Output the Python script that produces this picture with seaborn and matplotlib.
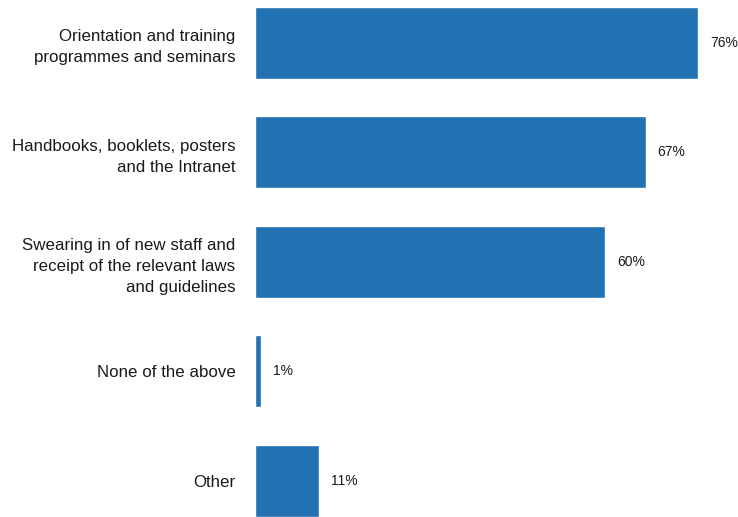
import matplotlib
matplotlib.use("Agg")
import matplotlib.pyplot as plt
import seaborn as sns
import pandas as pd

categories = [
    "Orientation and training\nprogrammes and seminars",
    "Handbooks, booklets, posters\nand the Intranet",
    "Swearing in of new staff and\nreceipt of the relevant laws\nand guidelines",
    "None of the above",
    "Other",
]
values = [76, 67, 60, 1, 11]
value_labels = ["76%", "67%", "60%", "1%", "11%"]

df = pd.DataFrame({"category": categories, "value": values})

sns.set_theme(style="white")
plt.rcParams["font.family"] = ["Liberation Sans", "DejaVu Sans"]

fig = plt.figure(figsize=(7.38, 5.17), dpi=100)
ax = fig.add_axes([255 / 738, 0, (738 - 255) / 738, 1])

sns.barplot(data=df, x="value", y="category", orient="h", color="#2271b3",
            width=0.66, saturation=1, ax=ax)

ax.set_xlim(0, 82.8)
ax.set_ylim(4.33, -0.39)
for s in ax.spines.values():
    s.set_visible(False)
ax.set_xticks([])
ax.set_xlabel("")
ax.set_ylabel("")
ax.tick_params(axis="y", length=0, pad=14, labelsize=12.2, colors="#1a1a1a")
for t in ax.get_yticklabels():
    t.set_linespacing(1.5)

for i, (v, lab) in enumerate(zip(values, value_labels)):
    ax.annotate(lab, (v, i), xytext=(8.5, 0), textcoords="offset points",
                va="center", ha="left", fontsize=10, color="#1a1a1a")

fig.savefig("out.png", dpi=100)
